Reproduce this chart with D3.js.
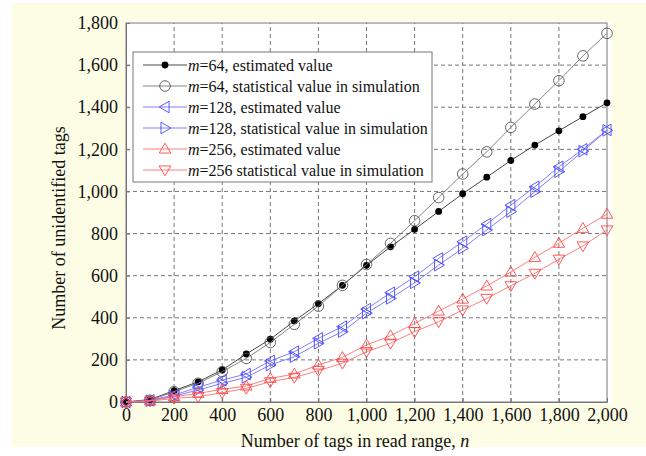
<!DOCTYPE html>
<html>
<head>
<meta charset="utf-8">
<script src="https://cdn.jsdelivr.net/npm/d3@7"></script>
<style>
  body { margin: 0; background: #fff; }
  svg text { font-family: "Liberation Serif", "Times New Roman", serif; fill: #111; }
</style>
</head>
<body>
<div id="chart"></div>
<script>
// Data
const nValues = [0, 100, 200, 300, 400, 500, 600, 700, 800, 900, 1000,
  1100, 1200, 1300, 1400, 1500, 1600, 1700, 1800, 1900, 2000];
const m64Est = [0, 12, 54, 96, 152, 228, 298, 385, 467, 554, 649,
  737, 820, 905, 989, 1068, 1147, 1220, 1288, 1355, 1421];
const m64Sim = [0, 8, 49, 89, 144, 207, 283, 369, 455, 554, 653,
  753, 861, 971, 1083, 1188, 1304, 1415, 1526, 1644, 1751];
const m128Est = [0, 8, 33, 70, 104, 133, 195, 239, 302, 358, 441,
  519, 595, 682, 761, 845, 935, 1022, 1117, 1200, 1292];
const m128Sim = [0, 6, 28, 57, 89, 117, 176, 215, 279, 334, 422,
  492, 566, 650, 730, 817, 904, 999, 1094, 1192, 1290];
const m256Est = [0, 6, 25, 41, 60, 76, 112, 133, 176, 212, 271,
  315, 373, 432, 489, 551, 617, 687, 754, 825, 892];
const m256Sim = [0, 4, 17, 25, 44, 65, 96, 117, 149, 184, 239,
  279, 334, 381, 437, 492, 552, 611, 678, 741, 817];
const xTicks = d3.range(0, 2001, 200);
const yTicks = d3.range(0, 1801, 200);

const series = [
  { label: "=64, estimated value", values: m64Est, color: "#222", lineColor: "#333", marker: "dot" },
  { label: "=64, statistical value in simulation", values: m64Sim, color: "#555", lineColor: "#777", marker: "circle" },
  { label: "=128, estimated value", values: m128Est, color: "#4646ff", lineColor: "#7070ff", marker: "left" },
  { label: "=128, statistical value in simulation", values: m128Sim, color: "#4646ff", lineColor: "#7070ff", marker: "right" },
  { label: "=256, estimated value", values: m256Est, color: "#ff4646", lineColor: "#ff7070", marker: "up" },
  { label: "=256 statistical value in simulation", values: m256Sim, color: "#ff4646", lineColor: "#ff7070", marker: "down" }
];

const width = 646, height = 456;
const margin = { top: 23, right: 39, bottom: 54, left: 126 };

const svg = d3.select("#chart").append("svg")
  .attr("width", width).attr("height", height);

// yellow figure background + white axes area
svg.append("rect").attr("x", 12).attr("y", 3).attr("width", 634).attr("height", 444)
  .attr("fill", "#fdfde6");
svg.append("rect").attr("x", margin.left - 1).attr("y", margin.top - 2)
  .attr("width", width - margin.left - margin.right + 6)
  .attr("height", height - margin.top - margin.bottom + 4)
  .attr("fill", "#fff");

const x = d3.scaleLinear().domain([0, 2000]).range([margin.left, width - margin.right]);
const y = d3.scaleLinear().domain([0, 1800]).range([height - margin.bottom, margin.top]);

// grid
const grid = svg.append("g").attr("stroke", "#777").attr("stroke-dasharray", "4,3");
grid.selectAll(".gx").data(xTicks.slice(1, -1)).enter().append("line")
  .attr("x1", d => x(d)).attr("x2", d => x(d))
  .attr("y1", y(0)).attr("y2", y(1800));
grid.selectAll(".gy").data(yTicks.slice(1, -1)).enter().append("line")
  .attr("y1", d => y(d)).attr("y2", d => y(d))
  .attr("x1", x(0)).attr("x2", x(2000));

// axes
const fmt = d3.format(",");
const xAxis = svg.append("g").attr("transform", `translate(0,${y(0)})`)
  .call(d3.axisBottom(x).tickValues(xTicks).tickFormat(fmt).tickSizeInner(-4).tickSizeOuter(0).tickPadding(3));
const yAxis = svg.append("g").attr("transform", `translate(${x(0)},0)`)
  .call(d3.axisLeft(y).tickValues(yTicks).tickFormat(fmt).tickSizeInner(-4).tickSizeOuter(0).tickPadding(8));
[xAxis, yAxis].forEach(a => {
  a.attr("font-family", null);
  a.selectAll("text").style("font-size", "18px").attr("fill", "#111");
  a.selectAll("line").attr("stroke", "#777");
  a.select(".domain").attr("stroke", "#777");
});
xAxis.selectAll("text").attr("dy", "0.9em");

// box
svg.append("rect").attr("x", x(0)).attr("y", y(1800))
  .attr("width", x(2000) - x(0)).attr("height", y(0) - y(1800))
  .attr("fill", "none").attr("stroke", "#777");

// markers
function drawMarker(g, type, color) {
  const s = 5.8;
  if (type === "dot") {
    g.append("circle").attr("r", 3.4).attr("fill", "#000");
  } else if (type === "circle") {
    g.append("circle").attr("r", 5.3).attr("fill", "none").attr("stroke", color).attr("stroke-width", 0.9);
  } else {
    const pts = {
      up: [[0, -s], [s, s * 0.7], [-s, s * 0.7]],
      down: [[0, s], [s, -s * 0.7], [-s, -s * 0.7]],
      left: [[-s, 0], [s * 0.7, -s], [s * 0.7, s]],
      right: [[s, 0], [-s * 0.7, -s], [-s * 0.7, s]]
    }[type];
    g.append("path").attr("d", d3.line()(pts) + "Z")
      .attr("fill", "none").attr("stroke", color).attr("stroke-width", 0.9);
  }
}

const line = d3.line().x((d, i) => x(nValues[i])).y(d => y(d));

series.forEach(s => {
  svg.append("path").datum(s.values).attr("d", line)
    .attr("fill", "none").attr("stroke", s.lineColor).attr("stroke-width", 0.9);
  svg.selectAll(null).data(s.values).enter().append("g")
    .attr("transform", (d, i) => `translate(${x(nValues[i])},${y(d)})`)
    .each(function () { drawMarker(d3.select(this), s.marker, s.color); });
});

// legend
const legend = svg.append("g").attr("transform", "translate(133,52)");
legend.append("rect").attr("width", 299).attr("height", 130)
  .attr("fill", "#fff").attr("stroke", "#777");
series.forEach((s, i) => {
  const row = legend.append("g").attr("transform", `translate(0,${13 + i * 21})`);
  row.append("line").attr("x1", 10).attr("x2", 54).attr("stroke", s.lineColor).attr("stroke-width", 0.9);
  drawMarker(row.append("g").attr("transform", "translate(32,0)"), s.marker, s.color);
  const t = row.append("text").attr("x", 55).attr("dy", "0.35em").style("font-size", "16px");
  t.append("tspan").attr("font-style", "italic").text("m");
  t.append("tspan").text(s.label);
});

// axis titles
svg.append("text").attr("x", 355).attr("y", 447).attr("text-anchor", "middle")
  .style("font-size", "18px")
  .call(t => {
    t.append("tspan").text("Number of tags in read range, ");
    t.append("tspan").attr("font-style", "italic").text("n");
  });
svg.append("text").attr("transform", "translate(65,228) rotate(-90)")
  .attr("text-anchor", "middle").style("font-size", "18px")
  .text("Number of unidentified tags");
</script>
</body>
</html>
